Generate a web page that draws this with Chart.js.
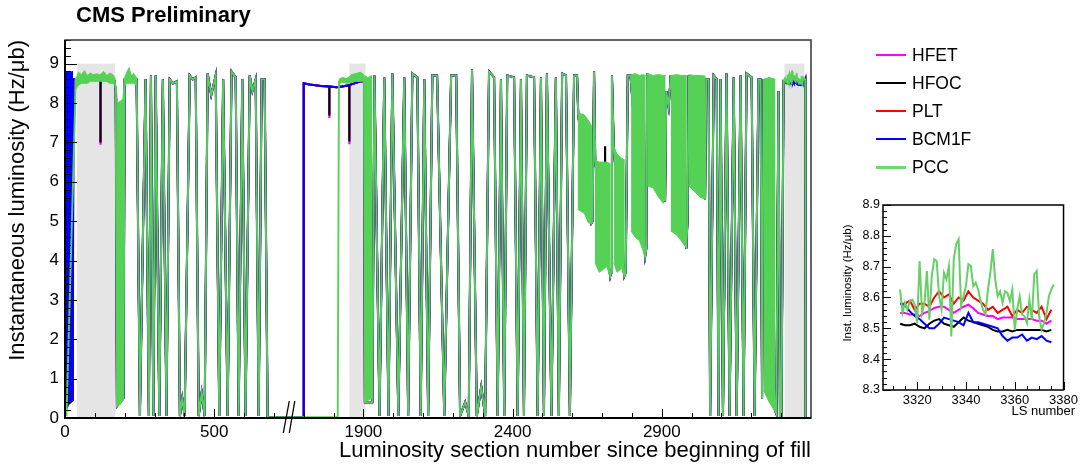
<!DOCTYPE html>
<html>
<head>
<meta charset="utf-8">
<title>CMS Preliminary – instantaneous luminosity</title>
<script src="https://cdn.jsdelivr.net/npm/chart.js@4.4.0/dist/chart.umd.min.js"></script>
<style>
  html, body { margin: 0; padding: 0; background: #fff; }
  #wrap { position: relative; width: 1081px; height: 466px; overflow: hidden;
          font-family: "Liberation Sans", Arial, Helvetica, sans-serif; color: #000; }
  #main { position: absolute; left: 0; top: 0; }
  #inset { position: absolute; left: 830px; top: 190px; }
  #title { position: absolute; left: 76px; top: 4px; font-size: 22px; line-height: 22px; font-weight: bold; white-space: nowrap; }
  #legend { position: absolute; left: 876px; top: 41px; }
  .row { position: relative; height: 28.1px; width: 180px; font-size: 17.5px; line-height: 28px; }
  .row i { position: absolute; left: 0; top: 13px; width: 30px; height: 2px; }
  .row span { position: absolute; left: 36px; top: 0; white-space: nowrap; }
</style>
</head>
<body>
<div id="wrap">
  <canvas id="main" width="1081" height="466"></canvas>
  <canvas id="inset" width="251" height="276"></canvas>
  <div id="title">CMS Preliminary</div>
  <div id="legend"></div>
</div>
<script>
// ---------------------------------------------------------------------------
// Detectors
// ---------------------------------------------------------------------------
const detectorNames  = ['HFET', 'HFOC', 'PLT', 'BCM1F', 'PCC'];
const detectorColors = ['#ff00ff', '#000000', '#ff0000', '#0000ff', '#55d255'];

// ---------------------------------------------------------------------------
// Main panel axes (LS 750–1650 is cut out of the x axis)
// ---------------------------------------------------------------------------
const xTickLS     = [0, 500, 1900, 2400, 2900];
const xTickLabels = ['0', '500', '1900', '2400', '2900'];
const yTickValues = [0, 1, 2, 3, 4, 5, 6, 7, 8, 9];
const shadedLS    = [[40, 168], [1853, 1907], [3311, 3378]];
const shadedTop   = 9.0;

// ---------------------------------------------------------------------------
// Main panel traces, [LS, Hz/ub] vertices
// ---------------------------------------------------------------------------
// start of fill, HFET / HFOC / PLT / BCM1F
const rampCommon = [[1, 0.3], [26, 0.45], [28, 8.6]];
const plateauCommon = [[28, 8.6], [60, 8.62], [90, 8.6], [118, 8.6], [140, 8.58], [166, 8.56], [170, 8.3],
  [174, 0.3], [196, 0.5], [200, 8.6], [220, 8.62], [240, 8.6]];
// start of fill, PCC
const rampPCC = [[5, 0.05], [36, 8.5]];
const plateauPCC = [[36, 8.62], [60, 8.66], [90, 8.64], [118, 8.66], [140, 8.64], [166, 8.62], [170, 8.3],
  [174, 0.3], [196, 0.5], [200, 8.62], [220, 8.7], [240, 8.62]];

// scan sequence before the gap (all detectors)
const scansLeft = [[251, 0.05], [270, 8.6], [281, 0.05], [288, 8.7], [296, 0.05], [304, 8.7], [316, 0.05],
  [328, 8.6], [340, 0.05], [351, 8.6], [362, 8.5], [375, 8.55], [385, 0.05], [393, 0.5], [401, 0.05],
  [418, 8.7], [428, 8.6], [438, 8.65], [448, 0.05], [458, 0.65], [468, 0.05], [478, 8.75], [490, 8.2],
  [505, 8.7], [517, 0.05], [530, 8.6], [545, 0.05], [558, 8.8], [572, 8.65], [582, 0.05], [594, 8.6],
  [605, 0.05], [619, 8.7], [628, 8.3], [639, 8.6], [649, 0.05], [659, 8.6], [669, 8.6], [679, 0.02]];

// beams back after the gap
const restartCommon = [[1698, 0.02], [1700, 8.5], [1720, 8.47], [1740, 8.45], [1760, 8.43], [1785, 8.42],
  [1810, 8.4], [1830, 8.42], [1850, 8.45], [1870, 8.5], [1890, 8.55], [1902, 8.55]];
const restartPCC = [[1698, 0.02], [1814, 0.02], [1818, 8.55], [1840, 8.6], [1870, 8.62], [1902, 8.65]];

// scan sequence after the gap (all detectors)
const scansRight = [[1905, 0.4], [1930, 0.4], [1937, 8.7], [1954, 0.05], [1970, 8.65], [1984, 0.05],
  [1997, 8.75], [2017, 0.05], [2037, 8.65], [2050, 0.05], [2064, 8.75], [2081, 8.65], [2092, 0.05],
  [2104, 8.6], [2117, 0.05], [2131, 8.7], [2147, 8.7], [2171, 0.05], [2194, 8.7], [2211, 8.7], [2224, 0.05],
  [2241, 0.4], [2253, 0.05], [2264, 8.85], [2280, 0.05], [2295, 0.8], [2308, 0.05], [2321, 8.8], [2338, 8.65],
  [2350, 0.05], [2361, 8.6], [2372, 0.05], [2382, 8.7], [2405, 8.65], [2417, 0.05], [2428, 8.6], [2438, 0.05],
  [2448, 8.7], [2472, 8.65], [2484, 0.05], [2495, 8.65], [2505, 0.05], [2515, 8.75], [2530, 0.05],
  [2545, 8.65], [2555, 0.05], [2566, 8.75], [2579, 8.7], [2592, 0.05], [2606, 8.7], [2616, 8.7],
  [2620, 7.7], [2664, 4.95], [2668, 5.0], [2673, 8.8], [2677, 6.5], [2727, 3.6], [2730, 3.7], [2733, 8.7],
  [2739, 6.85], [2774, 3.6], [2779, 3.7], [2786, 8.7], [2795, 8.7], [2844, 4.1], [2848, 4.3], [2851, 8.75],
  [2911, 5.5], [2915, 8.3], [2923, 7.9], [2930, 8.7], [2982, 4.3], [2986, 5.0], [2990, 8.7], [3045, 5.55],
  [3049, 8.6], [3057, 8.6], [3062, 0.05], [3074, 8.7], [3084, 8.6], [3090, 0.05], [3097, 8.6], [3105, 0.05],
  [3117, 8.75], [3127, 0.05], [3141, 8.65], [3151, 0.05], [3164, 8.7], [3174, 0.05], [3184, 8.75],
  [3201, 8.65], [3211, 0.05], [3224, 8.6], [3231, 8.6], [3236, 0.5], [3241, 8.6], [3279, 0.2], [3284, 0.1],
  [3291, 8.3], [3296, 0.05], [3301, 0.05], [3308, 8.55]];

// end of fill, after the last stable section
const fillEnd = [[3381, 8.6], [3382, 0.02]];

// PCC dense sections (rapid oscillation), upper and lower envelopes; null separates sections
const pccBandLS = [36, 45, 55, 65, 75, 85, 95, 105, 118, 130, 140, 150, 160, 168, null,
  172, 176, 186, 194, 198, null,
  200, 208, 215, 222, 230, 241, null,
  1818, 1830, 1845, 1860, 1875, 1890, 1902, null,
  1903, 1915, 1930, null,
  2618, 2640, 2655, 2666, null,
  2676, 2690, 2700, 2715, 2729, null,
  2739, 2750, 2765, 2776, null,
  2797, 2810, 2825, 2835, 2846, null,
  2851, 2870, 2890, 2905, 2913, null,
  2930, 2950, 2965, 2984, null,
  2990, 3010, 3030, 3047, null,
  3241, 3260, 3281];
const pccBandTop = [8.6, 8.78, 8.72, 8.82, 8.7, 8.76, 8.72, 8.74, 8.72, 8.8, 8.7, 8.76, 8.72, 8.62, null,
  8.4, 8.0, 8.05, 8.1, 8.5, null,
  8.65, 8.8, 8.9, 8.7, 8.75, 8.62, null,
  8.6, 8.65, 8.62, 8.72, 8.75, 8.78, 8.72, null,
  8.7, 8.65, 8.7, null,
  7.75, 7.7, 7.55, 7.4, null,
  6.55, 6.5, 6.5, 6.5, 6.45, null,
  6.9, 6.7, 6.6, 6.55, null,
  8.7, 8.75, 8.7, 8.72, 8.7, null,
  8.75, 8.7, 8.72, 8.7, 8.7, null,
  8.7, 8.72, 8.7, 8.7, null,
  8.72, 8.7, 8.7, 8.68, null,
  8.6, 8.65, 8.6];
const pccBandLow = [8.35, 8.45, 8.5, 8.5, 8.5, 8.55, 8.55, 8.55, 8.55, 8.55, 8.55, 8.5, 8.5, 8.45, null,
  0.3, 0.3, 0.35, 0.45, 0.5, null,
  8.45, 8.5, 8.5, 8.5, 8.5, 8.45, null,
  8.5, 8.52, 8.5, 8.52, 8.55, 8.55, 8.55, null,
  0.4, 0.45, 0.5, null,
  5.3, 5.2, 4.95, 4.95, null,
  3.95, 3.7, 3.75, 3.85, 3.55, null,
  3.95, 3.7, 3.8, 3.58, null,
  4.75, 4.6, 4.5, 4.3, 4.1, null,
  5.9, 5.85, 5.6, 5.45, 5.7, null,
  4.75, 4.65, 4.5, 4.3, null,
  5.9, 5.75, 5.6, 5.55, null,
  0.7, 0.4, 0.15];

// BCM1F oscillating at the very start of the fill
const bcmStartLS  = [2, 8, 16, 27];
const bcmStartTop = [8.8, 8.8, 8.78, 8.8];
const bcmStartLow = [0.2, 0.25, 0.43, 0.45];

// short HF dropouts
const hfocDipLS  = [119, 1786, 1853, 2710];
const hfocDipTop = [8.58, 8.42, 8.45, 6.9];
const hfocDipLow = [7.0, 7.68, 7.02, 6.3];
const hfetDipLS  = [119, 1786, 1853];
const hfetDipTop = [8.58, 8.42, 8.45];
const hfetDipLow = [6.94, 7.62, 6.95];

// ---------------------------------------------------------------------------
// Stable section LS 3313–3376 (inset, also the end of the main trace)
// ---------------------------------------------------------------------------
const insetLS = [3313, 3315, 3317, 3319, 3321, 3323, 3325, 3327, 3329, 3331, 3333, 3335, 3337, 3339, 3341, 3343,
  3345, 3347, 3349, 3351, 3353, 3355, 3357, 3359, 3361, 3363, 3365, 3367, 3369, 3371, 3373, 3375];
const hfetInset  = [8.55, 8.55, 8.545, 8.545, 8.54, 8.55, 8.556, 8.566, 8.57, 8.57, 8.56, 8.55, 8.56, 8.57, 8.577, 8.565,
  8.55, 8.545, 8.54, 8.54, 8.53, 8.535, 8.535, 8.535, 8.53, 8.53, 8.53, 8.53, 8.525, 8.525, 8.515, 8.525];
const hfocInset  = [8.515, 8.51, 8.51, 8.515, 8.505, 8.5, 8.515, 8.525, 8.53, 8.515, 8.51, 8.505, 8.52, 8.535, 8.525, 8.52,
  8.515, 8.51, 8.505, 8.495, 8.49, 8.49, 8.495, 8.49, 8.495, 8.495, 8.495, 8.495, 8.495, 8.495, 8.49, 8.495];
const pltInset   = [8.58, 8.58, 8.59, 8.56, 8.58, 8.58, 8.57, 8.6, 8.62, 8.6, 8.61, 8.58, 8.6, 8.59, 8.62, 8.6,
  8.59, 8.58, 8.56, 8.57, 8.55, 8.56, 8.57, 8.54, 8.56, 8.55, 8.57, 8.56, 8.55, 8.57, 8.53, 8.56];
const bcm1fInset = [8.58, 8.575, 8.555, 8.54, 8.53, 8.515, 8.5, 8.5, 8.515, 8.535, 8.53, 8.525, 8.52, 8.51, 8.55, 8.52,
  8.52, 8.515, 8.51, 8.505, 8.5, 8.475, 8.46, 8.47, 8.47, 8.48, 8.46, 8.47, 8.465, 8.475, 8.46, 8.455];
// PCC is read at every LS
const pccInsetLS = [3313, 3314, 3315, 3316, 3317, 3318, 3319, 3320, 3321, 3322, 3323, 3324, 3325, 3326, 3327, 3328,
  3329, 3330, 3331, 3332, 3333, 3334, 3335, 3336, 3337, 3338, 3339, 3340, 3341, 3342, 3343, 3344,
  3345, 3346, 3347, 3348, 3349, 3350, 3351, 3352, 3353, 3354, 3355, 3356, 3357, 3358, 3359, 3360,
  3361, 3362, 3363, 3364, 3365, 3366, 3367, 3368, 3369, 3370, 3371, 3372, 3373, 3374, 3375, 3376];
const pccInset = [8.626, 8.55, 8.583, 8.561, 8.588, 8.593, 8.577, 8.517, 8.718, 8.55, 8.583, 8.686, 8.528, 8.67, 8.724, 8.718,
  8.604, 8.561, 8.68, 8.659, 8.702, 8.474, 8.724, 8.773, 8.789, 8.572, 8.604, 8.637, 8.708, 8.702, 8.637, 8.648,
  8.626, 8.588, 8.561, 8.545, 8.626, 8.68, 8.757, 8.659, 8.604, 8.62, 8.583, 8.62, 8.615, 8.588, 8.626, 8.496,
  8.561, 8.604, 8.545, 8.539, 8.517, 8.593, 8.528, 8.675, 8.686, 8.539, 8.496, 8.517, 8.55, 8.604, 8.626, 8.642];

const insetXTicks = [3320, 3340, 3360, 3380];
const insetYTicks = [8.3, 8.4, 8.5, 8.6, 8.7, 8.8, 8.9];

// ---------------------------------------------------------------------------
Chart.defaults.font.family = '"Liberation Sans", Arial, Helvetica, sans-serif';
Chart.defaults.color = '#000';

const GAP_FROM = 750, GAP_TO = 1650;
const toAxis = ls => (ls <= GAP_FROM ? ls : ls - (GAP_TO - GAP_FROM));
const toPoints = pairs => pairs.map(([ls, v]) => ({ x: toAxis(ls), y: v }));
const zipPairs = (lsArr, vals) => lsArr.map((ls, i) => [ls, vals[i]]);

function lineSet(data, color, width, order, extra) {
  return Object.assign({ data, borderColor: color, backgroundColor: color, borderWidth: width,
    pointRadius: 0, fill: false, tension: 0, spanGaps: false, order }, extra || {});
}
function marksData(ls, from, to) {
  const d = [];
  ls.forEach((v, i) => { d.push({ x: toAxis(v), y: from[i] }, { x: toAxis(v), y: to[i] }, { x: toAxis(v), y: null }); });
  return d;
}
function bandSets(ls, top, low, color, order) {
  const sets = [];
  let up = null, dn = null;
  const flush = () => {
    if (up && up.length) {
      sets.push(lineSet(up, color, 1, order, { fill: '+1', backgroundColor: color }));
      sets.push(lineSet(dn, color, 1, order));
    }
    up = null; dn = null;
  };
  ls.forEach((v, i) => {
    if (v === null) { flush(); return; }
    if (!up) { up = []; dn = []; }
    up.push({ x: toAxis(v), y: top[i] });
    dn.push({ x: toAxis(v), y: low[i] });
  });
  flush();
  return sets;
}

const commonTrace = inset => toPoints([...rampCommon, ...plateauCommon, ...scansLeft, ...restartCommon,
  ...scansRight, ...zipPairs(insetLS, inset), ...fillEnd]);
const pccTrace = toPoints([...rampPCC, ...plateauPCC, ...scansLeft, ...restartPCC,
  ...scansRight, ...zipPairs(pccInsetLS, pccInset), ...fillEnd]);

const C = detectorColors;
const mainDatasets = [
  lineSet(commonTrace(hfetInset), C[0], 2.2, 10),
  lineSet(marksData(hfetDipLS, hfetDipTop, hfetDipLow), C[0], 2.2, 10),
  lineSet(commonTrace(hfocInset), C[1], 1.9, 9),
  lineSet(marksData(hfocDipLS, hfocDipTop, hfocDipLow), C[1], 2.2, 9),
  lineSet(commonTrace(pltInset), C[2], 1.8, 8),
  lineSet(commonTrace(bcm1fInset), C[3], 2.0, 7),
  ...bandSets(bcmStartLS, bcmStartTop, bcmStartLow, C[3], 7),
  ...bandSets(pccBandLS, pccBandTop, pccBandLow, C[4], 6),
  lineSet(pccTrace, C[4], 1.9, 5)
];

// frame, inward ticks, shaded sections and the axis-break mark
const mainDecor = {
  id: 'mainDecor',
  beforeDatasetsDraw(chart) {
    const { ctx, chartArea: a, scales: { x, y } } = chart;
    ctx.save();
    ctx.fillStyle = '#e5e5e5';
    const yt = y.getPixelForValue(shadedTop);
    shadedLS.forEach(([l, r]) => {
      const x0 = x.getPixelForValue(toAxis(l)), x1 = x.getPixelForValue(toAxis(r));
      ctx.fillRect(x0, yt, x1 - x0, a.bottom - yt);
    });
    ctx.restore();
  },
  afterDatasetsDraw(chart) {
    const { ctx, chartArea: a, scales: { x, y } } = chart;
    ctx.save();
    ctx.strokeStyle = '#000';
    ctx.lineWidth = 1;
    ctx.beginPath();
    for (let k = 0; k <= 48; k++) {
      const v = k * 0.2;
      const p = Math.round(y.getPixelForValue(v)) + 0.5;
      ctx.moveTo(a.left, p); ctx.lineTo(a.left + (k % 5 === 0 ? 12 : 6), p);
    }
    const tickLS = [];
    for (let ls = 0; ls <= 700; ls += 100) tickLS.push(ls);
    for (let ls = 1700; ls <= 3300; ls += 100) tickLS.push(ls);
    tickLS.forEach(ls => {
      const p = Math.round(x.getPixelForValue(toAxis(ls))) + 0.5;
      ctx.moveTo(p, a.bottom); ctx.lineTo(p, a.bottom - (xTickLS.includes(ls) ? 9 : 5));
    });
    ctx.stroke();

    ctx.strokeStyle = '#333';
    ctx.lineWidth = 1.5;
    ctx.strokeRect(a.left, a.top, a.right - a.left, a.bottom - a.top);
    ctx.strokeStyle = '#000';
    ctx.lineWidth = 2;
    ctx.beginPath();
    ctx.moveTo(a.left, a.top); ctx.lineTo(a.left, a.bottom); ctx.lineTo(a.right, a.bottom);
    ctx.stroke();

    const xb = x.getPixelForValue(GAP_FROM);
    ctx.lineWidth = 1.3;
    ctx.beginPath();
    ctx.moveTo(xb + 0.5, a.bottom - 17); ctx.lineTo(xb - 5.5, a.bottom + 15);
    ctx.moveTo(xb + 6, a.bottom - 17); ctx.lineTo(xb + 0.5, a.bottom + 15);
    ctx.stroke();
    ctx.restore();
  }
};

new Chart(document.getElementById('main'), {
  type: 'line',
  data: { datasets: mainDatasets },
  options: {
    responsive: false, animation: false, devicePixelRatio: 1,
    layout: { padding: { top: 40, right: 270, left: 0, bottom: 0 } },
    plugins: { legend: { display: false }, tooltip: { enabled: false } },
    scales: {
      x: {
        type: 'linear', min: 0, max: 2500,
        grid: { display: false, drawTicks: false }, border: { display: false },
        afterBuildTicks: s => { s.ticks = xTickLS.map(ls => ({ value: toAxis(ls) })); },
        afterFit: s => { s.height = 48; },
        ticks: { autoSkip: false, maxRotation: 0, padding: 4, font: { size: 17 },
                 callback: (v, i) => xTickLabels[i] },
        title: { display: true, text: 'Luminosity section number since beginning of fill', align: 'end',
                 font: { size: 22 }, padding: { top: 0, bottom: 2 } }
      },
      y: {
        type: 'linear', min: 0, max: 9.6,
        grid: { display: false, drawTicks: false }, border: { display: false },
        afterBuildTicks: s => { s.ticks = yTickValues.map(v => ({ value: v })); },
        afterFit: s => { s.width = 65; },
        ticks: { padding: 6, font: { size: 17 }, callback: v => String(v) },
        title: { display: true, text: 'Instantaneous luminosity (Hz/\u03bcb)', align: 'end',
                 font: { size: 22 }, padding: { top: 5, bottom: 0 } }
      }
    }
  },
  plugins: [mainDecor]
});

// ---------------------------------------------------------------------------
// Inset: the stable section at the end of the fill
// ---------------------------------------------------------------------------
const insetSeries = [
  [insetLS, hfetInset, C[0], 6],
  [insetLS, hfocInset, C[1], 5],
  [insetLS, pltInset, C[2], 4],
  [insetLS, bcm1fInset, C[3], 3],
  [pccInsetLS, pccInset, '#66d066', 2]
];
const insetDatasets = insetSeries.map(([lsArr, vals, color, order]) =>
  lineSet(lsArr.map((ls, i) => ({ x: ls, y: vals[i] })), color, 2, order));

const insetDecor = {
  id: 'insetDecor',
  afterDatasetsDraw(chart) {
    const { ctx, chartArea: a, scales: { x, y } } = chart;
    ctx.save();
    ctx.strokeStyle = '#000';
    ctx.lineWidth = 1;
    ctx.beginPath();
    for (let k = 0; k <= 30; k++) {
      const p = Math.round(y.getPixelForValue(8.3 + k * 0.02)) + 0.5;
      ctx.moveTo(a.left, p); ctx.lineTo(a.left + (k % 5 === 0 ? 8 : 4), p);
    }
    for (let ls = 3310; ls <= 3380; ls += 5) {
      const p = Math.round(x.getPixelForValue(ls)) + 0.5;
      ctx.moveTo(p, a.bottom); ctx.lineTo(p, a.bottom - (ls % 20 === 0 ? 8 : 4));
    }
    ctx.stroke();
    ctx.lineWidth = 1.5;
    ctx.strokeRect(a.left, a.top, a.right - a.left, a.bottom - a.top);

    ctx.fillStyle = '#000';
    ctx.font = '13px "Liberation Sans", Arial, sans-serif';
    ctx.textAlign = 'right';
    ctx.textBaseline = 'middle';
    ctx.fillText('LS number', 245, 221);
    ctx.translate(18, 93);
    ctx.rotate(-Math.PI / 2);
    ctx.textAlign = 'center';
    ctx.font = '11.5px "Liberation Sans", Arial, sans-serif';
    ctx.fillText('Inst. luminosity (Hz/\u03bcb)', 0, 0);
    ctx.restore();
  }
};

new Chart(document.getElementById('inset'), {
  type: 'line',
  data: { datasets: insetDatasets },
  options: {
    responsive: false, animation: false, devicePixelRatio: 1,
    layout: { padding: { top: 15, right: 13, left: 0, bottom: 0 } },
    plugins: { legend: { display: false }, tooltip: { enabled: false } },
    scales: {
      x: {
        type: 'linear', min: 3306, max: 3380,
        grid: { display: false, drawTicks: false }, border: { display: false },
        afterBuildTicks: s => { s.ticks = insetXTicks.map(v => ({ value: v })); },
        afterFit: s => { s.height = 76; },
        ticks: { autoSkip: false, maxRotation: 0, padding: 3, font: { size: 13 }, callback: v => String(v) }
      },
      y: {
        type: 'linear', min: 8.3, max: 8.9,
        grid: { display: false, drawTicks: false }, border: { display: false },
        afterBuildTicks: s => { s.ticks = insetYTicks.map(v => ({ value: v })); },
        afterFit: s => { s.width = 53; },
        ticks: { padding: 3, font: { size: 12.5 }, callback: v => v.toFixed(1) }
      }
    }
  },
  plugins: [insetDecor]
});

// ---------------------------------------------------------------------------
// Legend
// ---------------------------------------------------------------------------
const legend = document.getElementById('legend');
detectorNames.forEach((name, k) => {
  const row = document.createElement('div');
  row.className = 'row';
  const sw = document.createElement('i');
  sw.style.background = k === 4 ? '#6fd86f' : detectorColors[k];
  if (k === 4) { sw.style.height = '3px'; sw.style.top = '12.5px'; }
  const label = document.createElement('span');
  label.textContent = name;
  row.appendChild(sw); row.appendChild(label);
  legend.appendChild(row);
});
</script>
</body>
</html>
